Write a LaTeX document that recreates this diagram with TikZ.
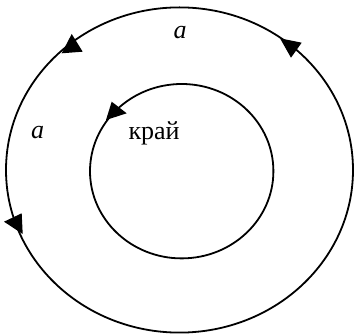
\documentclass[tikz,border=0pt]{standalone}
\usepackage{fontspec}
\setmainfont{Liberation Serif}
\begin{document}
\begin{tikzpicture}[
		x=1pt, y=-1pt,
		ring/.style={draw, line width=1.8pt},
		head/.style={fill=black},
		lbl/.style={inner sep=0pt, font=\fontsize{26}{30}\selectfont}
	]
		\useasboundingbox (0,0) rectangle (354,336);

		% центры колец
		\def\cx{179.5}
		\def\cy{170}

		% внешнее и внутреннее кольцо
		\draw[ring] (\cx,\cy) ellipse [x radius=173.5pt, y radius=162.6pt];
		\draw[ring] (181.7,171.2) ellipse [x radius=91.7pt, y radius=87.2pt];

		% наконечники (против часовой)
		\fill[head] (71.7,34) -- (82.7,51.7) -- (61.7,53.3) -- cycle;
		\fill[head] (280,38.3) -- (301.7,42.7) -- (291,57.7) -- cycle;
		\fill[head] (4,221.7) -- (21.7,213.3) -- (22.7,234) -- cycle;
		\fill[head] (111.7,101.7) -- (126.7,113.3) -- (106,120) -- cycle;

		% подписи
		\node[lbl, anchor=base] (atop)  at (180,39)  {\itshape a};
		\node[lbl, anchor=base] (aleft) at (37.7,139) {\itshape a};
		\node[lbl, anchor=base west] (edge) at (128.3,140) {край};
	\end{tikzpicture}
\end{document}
